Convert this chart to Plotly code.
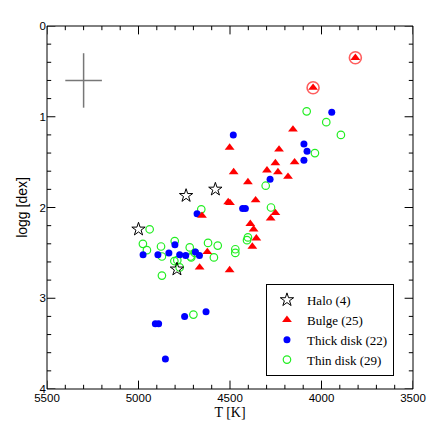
import plotly.graph_objects as go

# ---------------- data ----------------
halo_T = [5000, 4740, 4580, 4790]
halo_logg = [2.24, 1.87, 1.80, 2.68]

bulge_T = [3815, 4046, 4156, 4502, 4232, 4252, 4147, 4480, 4298, 4238, 4183, 4402, 4360,
           4510, 4500, 4252, 4278, 4653, 4389, 4371, 4356, 4378, 4624, 4666, 4502]
bulge_logg = [0.35, 0.68, 1.14, 1.34, 1.36, 1.51, 1.50, 1.61, 1.59, 1.61, 1.66, 1.72, 1.92,
              1.94, 1.95, 2.06, 2.12, 2.09, 2.18, 2.24, 2.34, 2.43, 2.49, 2.66, 2.69]

thick_T = [3944, 4482, 4096, 4079, 4096, 4281, 4431, 4416, 4680, 4801, 4975, 4894, 4834,
           4775, 4742, 4689, 4667, 4631, 4748, 4908, 4890, 4853]
thick_logg = [0.95, 1.20, 1.30, 1.38, 1.48, 1.69, 2.01, 2.01, 2.07, 2.41, 2.52, 2.52, 2.50,
              2.52, 2.53, 2.49, 2.53, 3.15, 3.20, 3.28, 3.28, 3.67]

thin_T = [4081, 3974, 3894, 4036, 4305, 4276, 4657, 4939, 4976, 4954, 4877, 4872, 4872,
          4802, 4804, 4788, 4775, 4720, 4715, 4692, 4620, 4588, 4567, 4471, 4471, 4402,
          4407, 4700, 4712]
thin_logg = [0.94, 1.06, 1.20, 1.40, 1.76, 2.00, 2.02, 2.24, 2.40, 2.47, 2.43, 2.54, 2.75,
             2.37, 2.59, 2.58, 2.66, 2.44, 2.54, 2.50, 2.39, 2.55, 2.42, 2.46, 2.50, 2.33,
             2.36, 3.18, 2.55]

circled_T = [3815, 4046]
circled_logg = [0.35, 0.68]

# typical error bar
err_T = [5300]
err_logg = [0.60]
err_dT = [100]
err_dlogg = [0.3]

T_range = [5500, 3500]
logg_range = [4, 0]
x_major = [5500, 5000, 4500, 4000, 3500]
x_minor = [5400, 5300, 5200, 5100, 4900, 4800, 4700, 4600, 4400, 4300, 4200, 4100,
           3900, 3800, 3700, 3600]
y_major = [0, 1, 2, 3, 4]
y_minor = [0.2, 0.4, 0.6, 0.8, 1.2, 1.4, 1.6, 1.8, 2.2, 2.4, 2.6, 2.8, 3.2, 3.4, 3.6, 3.8]

# ---------------- figure ----------------
fig = go.Figure()


def tick_trace(xs, ys, symbol, size):
    # inward tick marks: markers centred on the frame, the outer half is clipped by the axes
    return go.Scatter(x=xs, y=ys, mode="markers", showlegend=False, hoverinfo="skip",
                      cliponaxis=True,
                      marker=dict(symbol=symbol, size=size, color="black",
                                  line=dict(color="black", width=1)))


for vals, size in ((x_major, 12), (x_minor, 6)):
    fig.add_trace(tick_trace(vals + vals,
                             [logg_range[0]] * len(vals) + [logg_range[1]] * len(vals),
                             "line-ns", size))
for vals, size in ((y_major, 12), (y_minor, 6)):
    fig.add_trace(tick_trace([T_range[0]] * len(vals) + [T_range[1]] * len(vals),
                             vals + vals, "line-ew", size))

fig.add_trace(go.Scatter(
    x=err_T, y=err_logg, mode="markers",
    marker=dict(size=1, color="rgba(0,0,0,0)"),
    error_x=dict(type="data", array=err_dT, color="#777777", thickness=1.5, width=0),
    error_y=dict(type="data", array=err_dlogg, color="#777777", thickness=1.5, width=0),
    showlegend=False, hoverinfo="skip"))

fig.add_trace(go.Scatter(
    x=circled_T, y=circled_logg, mode="markers",
    marker=dict(symbol="circle-open", size=12, color="rgba(255,40,40,0.75)",
                line=dict(width=1.6)),
    showlegend=False, hoverinfo="skip"))

fig.add_trace(go.Scatter(
    x=thin_T, y=thin_logg, mode="markers", name="Thin disk (29)",
    marker=dict(symbol="circle-open", size=7.5, color="#22ee22", line=dict(width=1.2))))

fig.add_trace(go.Scatter(
    x=thick_T, y=thick_logg, mode="markers", name="Thick disk (22)",
    marker=dict(symbol="circle", size=7, color="#0000ff", line=dict(width=0))))

fig.add_trace(go.Scatter(
    x=bulge_T, y=bulge_logg, mode="markers", name="Bulge (25)",
    marker=dict(symbol="triangle-up", size=8.5, color="#ff0000", line=dict(width=0))))

fig.add_trace(go.Scatter(
    x=halo_T, y=halo_logg, mode="markers", name="Halo (4)",
    marker=dict(symbol="star-open", size=10, color="#000000", line=dict(width=1))))

tickfont = dict(family="Liberation Sans, Arial, sans-serif", size=11.5, color="black")

fig.update_layout(
    width=436, height=436,
    margin=dict(l=39, r=31, t=16, b=55),
    paper_bgcolor="#ffffff", plot_bgcolor="#ffffff",
    showlegend=True,
    xaxis=dict(
        range=T_range, tickmode="array", tickvals=x_major,
        showline=False, ticks="", showgrid=False, zeroline=False,
        tickfont=tickfont,
        title=dict(text="T [K]", font=dict(family="Liberation Serif, Times New Roman, serif",
                                            size=14, color="black"), standoff=4),
    ),
    yaxis=dict(
        range=logg_range, tickmode="array", tickvals=y_major,
        showline=False, ticks="", showgrid=False, zeroline=False,
        tickfont=tickfont,
        title=dict(text="logg [dex]", font=dict(family="Liberation Sans, Arial, sans-serif",
                                                 size=14, color="black"), standoff=8),
    ),
    shapes=[dict(type="rect", xref="paper", yref="paper", x0=0, x1=1, y0=0, y1=1,
                 line=dict(color="black", width=1), layer="above")],
    legend=dict(
        x=0.948, y=0.036, xanchor="right", yanchor="bottom",
        bgcolor="#ffffff", bordercolor="#000000", borderwidth=1,
        font=dict(family="Liberation Serif, Times New Roman, serif", size=13, color="#000000"),
        traceorder="reversed", itemwidth=30,
    ),
)

fig.write_html("out.html")
